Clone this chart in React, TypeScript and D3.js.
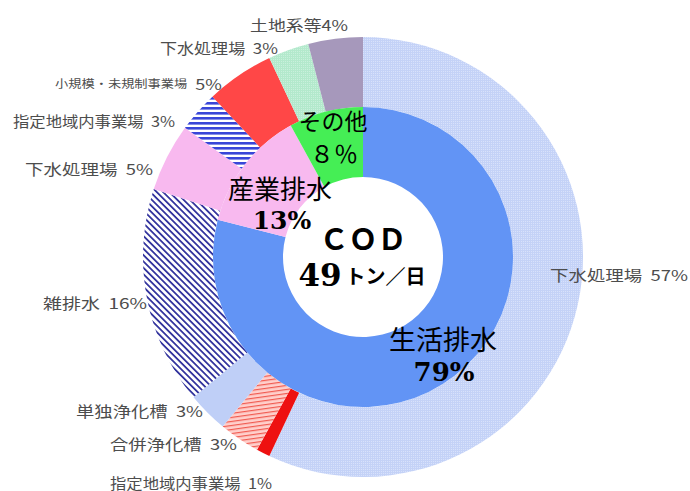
import * as d3 from "d3";

// COD 発生源別内訳
const totalCod = 49;
const innerCategories = ["生活排水", "産業排水", "その他"];
const innerValues = [79, 13, 8];
const innerLabelValues = ["79%", "13%", "８％"];

const outerCategories = [
  "下水処理場",
  "指定地域内事業場",
  "合併浄化槽",
  "単独浄化槽",
  "雑排水",
  "下水処理場",
  "指定地域内事業場",
  "小規模・未規制事業場",
  "下水処理場",
  "土地系等",
];
const outerValues = [57, 1, 3, 3, 16, 5, 3, 5, 3, 4];

// fills for each outer slice (pattern ids or colours)
const outerFills = [
  "url(#pSewerBlue)",
  "#ee1111",
  "url(#pRedLines)",
  "#bfcff7",
  "url(#pNavyDiag)",
  "#f8b9ef",
  "url(#pBlueLines)",
  "#ff4747",
  "url(#pMint)",
  "#a698bb",
];
const innerFills = ["#6294f5", "#f8b9ef", "#45ee55"];

// label layout: left, right, vertical centre (px)
const outerLabelBoxes = [
  [550, 688, 274],
  [110, 272, 482],
  [110, 237, 443],
  [76, 203, 410],
  [43, 147, 302],
  [25, 153, 168],
  [13, 175, 120],
  [55, 222, 83],
  [160, 278, 47],
  [250, 348, 24],
];

const W = 690;
const H = 491;
const cx = 363;
const cy = 257;
const r0 = 80;
const r1 = 150;
const r2 = 220;

const jp = "'Noto Sans CJK JP', sans-serif";
const serif = "'DejaVu Serif', serif";

export default function App() {
  const pie = d3.pie<number>().sort(null).value((d) => d);
  const innerArcs = pie(innerValues);
  const outerArcs = pie(outerValues);
  const innerArc = d3.arc<d3.PieArcDatum<number>>().innerRadius(r0).outerRadius(r1);
  const outerArc = d3.arc<d3.PieArcDatum<number>>().innerRadius(r1).outerRadius(r2);

  return (
    <svg
      width={W}
      height={H}
      style={{ position: "absolute", left: 0, top: 0, background: "#fff" }}
    >
      <defs>
        <pattern id="pSewerBlue" width={2} height={2} patternUnits="userSpaceOnUse">
          <rect width={2} height={2} fill="#c4d2f7" />
          <rect width={1} height={1} fill="#d8e2fb" />
        </pattern>
        <pattern id="pMint" width={2} height={2} patternUnits="userSpaceOnUse">
          <rect width={2} height={2} fill="#b3e9cc" />
          <rect width={1} height={1} fill="#c9f0dc" />
        </pattern>
        <pattern id="pNavyDiag" width={4.5} height={4.5} patternUnits="userSpaceOnUse" patternTransform="rotate(45)">
          <rect width={4.5} height={4.5} fill="#fff" />
          <rect width={4.5} height={1.8} fill="#34359e" />
        </pattern>
        <pattern id="pBlueLines" width={5} height={5} patternUnits="userSpaceOnUse">
          <rect width={5} height={5} fill="#fff" />
          <rect width={5} height={2.6} fill="#3946d8" />
        </pattern>
        <pattern id="pRedLines" width={4} height={4} patternUnits="userSpaceOnUse" patternTransform="rotate(-8)">
          <rect width={4} height={4} fill="#ffd0cc" />
          <rect width={4} height={1.2} fill="#f05a50" />
        </pattern>
      </defs>

      <g transform={`translate(${cx},${cy})`}>
        {outerArcs.map((a, i) => (
          <path key={"o" + i} d={outerArc(a) ?? ""} fill={outerFills[i]} />
        ))}
        {innerArcs.map((a, i) => (
          <path key={"i" + i} d={innerArc(a) ?? ""} fill={innerFills[i]} />
        ))}
      </g>

      {/* outer labels */}
      {outerCategories.map((c, i) => {
        const [x0, x1, y] = outerLabelBoxes[i];
        const small = c.length > 8;
        const gap = c === "土地系等" ? "" : "\u00a0\u00a0";
        return (
          <text
            key={"ol" + i}
            x={x0}
            y={y}
            dominantBaseline="central"
            fill="#4d4d4d"
            fontFamily={jp}
            fontSize={15}
            textLength={x1 - x0}
            lengthAdjust="spacingAndGlyphs"
          >
            <tspan fontSize={small ? 11 : 15}>{c}</tspan>
            {gap + outerValues[i] + "%"}
          </text>
        );
      })}

      {/* inner labels */}
      <text x={333} y={120} textAnchor="middle" dominantBaseline="central" fontFamily={jp} fontSize={23} fill="#000">
        {innerCategories[2]}
      </text>
      <text x={334} y={152} textAnchor="middle" dominantBaseline="central" fontFamily={jp} fontSize={24} fill="#000">
        {innerLabelValues[2]}
      </text>

      <text x={280} y={187} textAnchor="middle" dominantBaseline="central" fontFamily={jp} fontSize={26} fill="#000">
        {innerCategories[1]}
      </text>
      <text x={282} y={220} textAnchor="middle" dominantBaseline="central" fontFamily={serif} fontWeight="bold" fontSize={25} fill="#000">
        {innerLabelValues[1]}
      </text>

      <text x={443} y={338} textAnchor="middle" dominantBaseline="central" fontFamily={jp} fontSize={27} fill="#000">
        {innerCategories[0]}
      </text>
      <text x={444} y={372} textAnchor="middle" dominantBaseline="central" fontFamily={serif} fontWeight="bold" fontSize={26} fill="#000">
        {innerLabelValues[0]}
      </text>

      {/* centre */}
      <text x={363} y={237} textAnchor="middle" dominantBaseline="central" fontFamily={jp} fontWeight="bold" fontSize={29} fill="#000">
        ＣＯＤ
      </text>
      <text x={362} y={275} textAnchor="middle" dominantBaseline="central" fill="#000">
        <tspan fontFamily={serif} fontWeight="bold" fontSize={31}>
          {totalCod}
        </tspan>
        <tspan fontFamily={jp} fontWeight="bold" fontSize={20} dx={4}>
          トン／日
        </tspan>
      </text>
    </svg>
  );
}
